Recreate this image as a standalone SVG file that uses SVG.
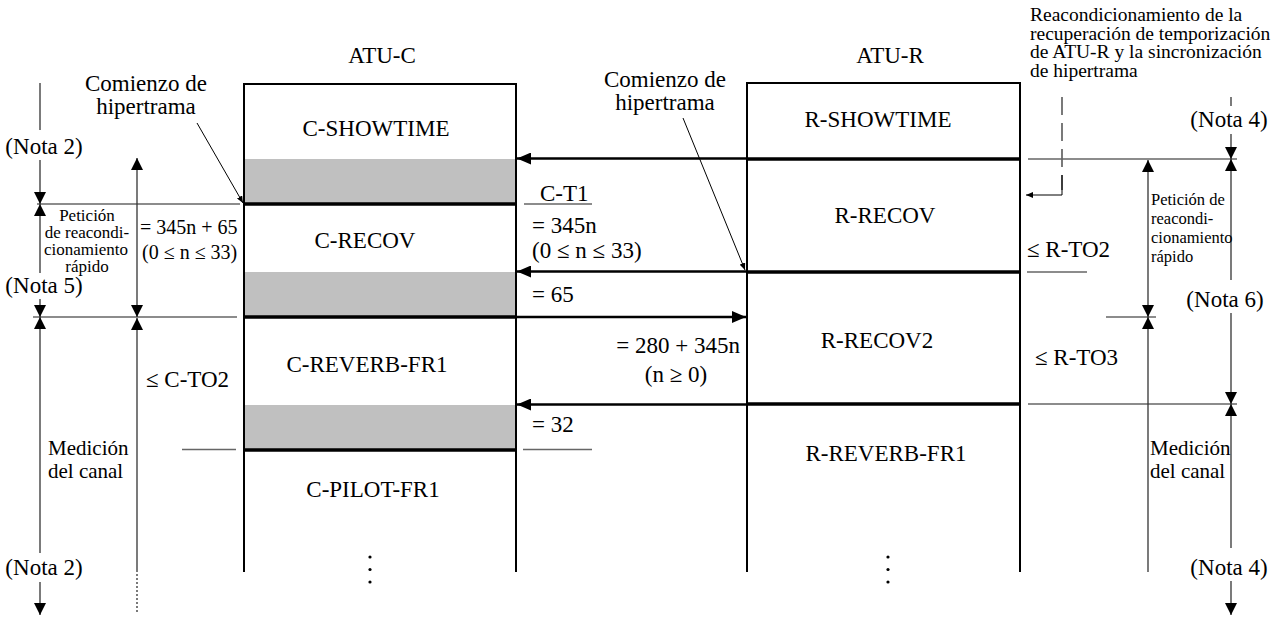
<svg xmlns="http://www.w3.org/2000/svg" width="1285" height="617" viewBox="0 0 1285 617" font-family="'Liberation Serif', 'Times New Roman', Times, 'DejaVu Serif', serif">
<style>
text { font-family: "Liberation Serif", "Times New Roman", Times, "DejaVu Serif", serif; fill: #000; }
.lg { font-size: 23px; }
.md { font-size: 20px; }
.me { font-size: 21px; }
.sm { font-size: 17px; }
.xs { font-size: 16.5px; }
.tr { font-size: 19.5px; }
.c { text-anchor: middle; }
.grey { fill: #c0c0c0; }
.box { fill: none; stroke: #000; stroke-width: 2; }
.sep { stroke: #000; stroke-width: 3.5; }
.msg { stroke: #000; stroke-width: 2.5; fill: none; marker-end: url(#ah); }
.ref { stroke: #666; stroke-width: 1.5; }
.dim { stroke: #333; stroke-width: 1.3; fill: none; marker-end: url(#dh); }
.ln { stroke: #333; stroke-width: 1.3; fill: none; }
.ptr { stroke: #000; stroke-width: 1; fill: none; marker-end: url(#sh); }
</style>
<defs>
<marker id="ah" markerUnits="userSpaceOnUse" markerWidth="15" markerHeight="12" refX="14" refY="6" orient="auto"><path d="M0,0 L14,6 L0,12 z" fill="#000"/></marker>
<marker id="dh" markerUnits="userSpaceOnUse" markerWidth="13" markerHeight="12" refX="12" refY="6" orient="auto"><path d="M0,0 L12,6 L0,12 z" fill="#000"/></marker>
<marker id="sh" markerUnits="userSpaceOnUse" markerWidth="8" markerHeight="6" refX="7" refY="3" orient="auto"><path d="M0,0 L7,3 L0,6 z" fill="#000"/></marker>
</defs>

<g id="atu-c">
  <text class="lg c" x="382" y="63">ATU-C</text>
  <rect class="grey" x="245" y="159" width="270" height="45"/>
  <rect class="grey" x="245" y="272" width="270" height="45"/>
  <rect class="grey" x="245" y="405" width="270" height="45"/>
  <path class="box" d="M244,572 V84 H516 V572"/>
  <line class="sep" x1="244" y1="204" x2="516" y2="204"/>
  <line class="sep" x1="244" y1="317" x2="516" y2="317"/>
  <line class="sep" x1="244" y1="450" x2="516" y2="450"/>
  <g id="c-showtime"><text class="lg c" x="376" y="136">C-SHOWTIME</text></g>
  <g id="c-recov"><text class="lg c" x="365" y="248">C-RECOV</text></g>
  <g id="c-reverb-fr1"><text class="lg c" x="367" y="372">C-REVERB-FR1</text></g>
  <g id="c-pilot-fr1"><text class="lg c" x="373" y="497">C-PILOT-FR1</text></g>
  <circle cx="370" cy="557" r="1.6"/>
  <circle cx="370" cy="569.5" r="1.6"/>
  <circle cx="370" cy="582" r="1.6"/>
</g>

<g id="atu-r">
  <text class="lg c" x="890" y="63">ATU-R</text>
  <path class="box" d="M747,572 V83 H1020 V572"/>
  <line class="sep" x1="747" y1="159" x2="1020" y2="159"/>
  <line class="sep" x1="747" y1="272" x2="1020" y2="272"/>
  <line class="sep" x1="747" y1="404" x2="1020" y2="404"/>
  <g id="r-showtime"><text class="lg c" x="878" y="127">R-SHOWTIME</text></g>
  <g id="r-recov"><text class="lg c" x="885" y="223">R-RECOV</text></g>
  <g id="r-recov2"><text class="lg c" x="877" y="348">R-RECOV2</text></g>
  <g id="r-reverb-fr1"><text class="lg c" x="886" y="461">R-REVERB-FR1</text></g>
  <circle cx="888" cy="557" r="1.6"/>
  <circle cx="888" cy="569.5" r="1.6"/>
  <circle cx="888" cy="582" r="1.6"/>
</g>

<g id="connectors">
  <line class="msg" x1="747" y1="158.5" x2="517" y2="158.5"/>
  <line class="msg" x1="747" y1="271.5" x2="517" y2="271.5"/>
  <line class="msg" x1="516" y1="317" x2="746" y2="317"/>
  <line class="msg" x1="747" y1="404.5" x2="517" y2="404.5"/>
  <line class="ptr" x1="197" y1="123" x2="243" y2="203"/>
  <line class="ptr" x1="683" y1="118" x2="745" y2="270"/>
  <line class="ln" x1="1062" y1="97" x2="1062" y2="190" stroke-dasharray="18 8"/>
  <path class="ptr" d="M1062,175 V195 H1026"/>
</g>

<g id="reference-lines">
  <line class="ref" x1="37" y1="204" x2="240" y2="204"/>
  <line class="ref" x1="33" y1="317" x2="237" y2="317"/>
  <line class="ref" x1="182" y1="449.5" x2="236" y2="449.5"/>
  <line class="ref" x1="524" y1="204" x2="592" y2="204"/>
  <line class="ref" x1="523" y1="449.5" x2="592" y2="449.5"/>
  <line class="ref" x1="1028" y1="159" x2="1237" y2="159"/>
  <line class="ref" x1="1027" y1="272" x2="1087" y2="272"/>
  <line class="ref" x1="1106" y1="317" x2="1156" y2="317"/>
  <line class="ref" x1="1028" y1="404" x2="1237" y2="404"/>
</g>

<g id="left-dimensions">
  <line class="ln" x1="40" y1="83" x2="40" y2="130"/>
  <line class="dim" x1="40" y1="160" x2="40" y2="204"/>
  <line class="dim" x1="40" y1="273" x2="40" y2="204"/>
  <line class="dim" x1="40" y1="299" x2="40" y2="317"/>
  <line class="dim" x1="40" y1="553" x2="40" y2="317"/>
  <line class="dim" x1="40" y1="582" x2="40" y2="615"/>
  <line class="dim" x1="137" y1="240" x2="137" y2="158"/>
  <line class="dim" x1="137" y1="240" x2="137" y2="317"/>
  <line class="dim" x1="137" y1="570" x2="137" y2="318"/>
  <line class="ln" x1="137" y1="570" x2="137" y2="612" stroke-dasharray="2 2"/>
</g>

<g id="right-dimensions">
  <line class="ln" x1="1231" y1="97" x2="1231" y2="106"/>
  <line class="dim" x1="1231" y1="134" x2="1231" y2="159"/>
  <line class="dim" x1="1231" y1="280" x2="1231" y2="159"/>
  <line class="dim" x1="1231" y1="313" x2="1231" y2="404"/>
  <line class="dim" x1="1231" y1="548" x2="1231" y2="404"/>
  <line class="dim" x1="1231" y1="581" x2="1231" y2="615"/>
  <line class="dim" x1="1148" y1="240" x2="1148" y2="160"/>
  <line class="dim" x1="1148" y1="240" x2="1148" y2="317"/>
  <line class="dim" x1="1148" y1="572" x2="1148" y2="317"/>
</g>

<g id="labels">
  <text class="lg c" x="146" y="91">Comienzo de</text>
  <text class="lg c" x="146" y="114">hipertrama</text>
  <text class="lg c" x="665" y="87">Comienzo de</text>
  <text class="lg c" x="665" y="110">hipertrama</text>

  <text class="tr" x="1030" y="21">Reacondicionamiento de la</text>
  <text class="tr" x="1030" y="39.5">recuperación de temporización</text>
  <text class="tr" x="1030" y="58">de ATU-R y la sincronización</text>
  <text class="tr" x="1030" y="76.5">de hipertrama</text>

  <text class="lg c" x="44" y="154">(Nota 2)</text>
  <text class="lg c" x="44" y="293">(Nota 5)</text>
  <text class="lg c" x="44" y="575">(Nota 2)</text>
  <text class="lg c" x="1229" y="127">(Nota 4)</text>
  <text class="lg c" x="1225" y="307">(Nota 6)</text>
  <text class="lg c" x="1229" y="575">(Nota 4)</text>

  <text class="sm c" x="87" y="221">Petición</text>
  <text class="sm c" x="87" y="238">de reacondi-</text>
  <text class="sm c" x="86" y="255">cionamiento</text>
  <text class="sm c" x="87" y="272">rápido</text>

  <text class="md" x="140" y="234">= 345n + 65</text>
  <text class="md" x="142" y="259">(0 ≤ n ≤ 33)</text>
  <text class="lg" x="146" y="387">≤ C-TO2</text>
  <text class="me" x="48" y="455">Medición</text>
  <text class="me" x="48" y="478">del canal</text>

  <text class="lg" x="540" y="201">C-T1</text>
  <text class="lg" x="532" y="233">= 345n</text>
  <text class="lg" x="532" y="258">(0 ≤ n ≤ 33)</text>
  <text class="lg" x="532" y="302">= 65</text>
  <text class="lg" x="740" y="353" text-anchor="end">= 280 + 345n</text>
  <text class="lg c" x="676" y="382">(n ≥ 0)</text>
  <text class="lg" x="532" y="432">= 32</text>

  <text class="lg" x="1027" y="257">≤ R-TO2</text>
  <text class="lg" x="1035" y="365">≤ R-TO3</text>
  <text class="xs" x="1151" y="205">Petición de</text>
  <text class="xs" x="1151" y="224">reacondi-</text>
  <text class="xs" x="1151" y="243">cionamiento</text>
  <text class="xs" x="1151" y="262">rápido</text>
  <text class="me" x="1150" y="455">Medición</text>
  <text class="me" x="1150" y="478">del canal</text>
</g>
</svg>
